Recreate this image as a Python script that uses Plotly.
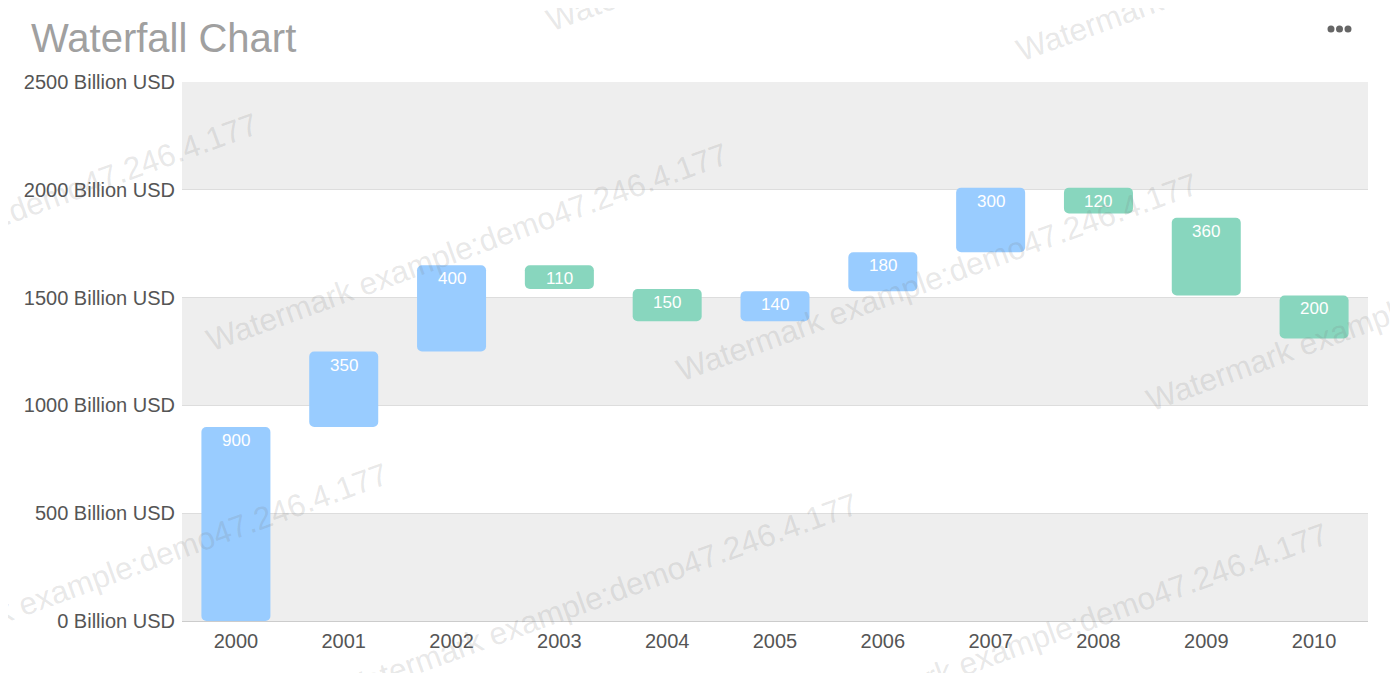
import numpy as np
import plotly.graph_objects as go

# ---- data (floating waterfall bars) ----
years = ["2000", "2001", "2002", "2003", "2004", "2005", "2006", "2007", "2008", "2009", "2010"]
bar_start = [0, 900, 1250, 1650, 1540, 1390, 1530, 1710, 2010, 1870, 1510]
bar_end = [900, 1250, 1650, 1540, 1390, 1530, 1710, 2010, 1890, 1510, 1310]
tick_vals = [0, 500, 1000, 1500, 2000, 2500]
tick_text = [f"{t} Billion USD" for t in tick_vals]
title_text = "Waterfall Chart"
watermark_text = "Watermark example:demo47.246.4.177"

BLUE = "#99ccff"
GREEN = "#88d6be"

s = np.array(bar_start, dtype=float)
e = np.array(bar_end, dtype=float)
changes = e - s
low = np.minimum(s, e)
high = np.maximum(s, e)
height = high - low
colors = [BLUE if v >= 0 else GREEN for v in changes]
idx = list(range(len(years)))

OFF = 8  # page body margin
W, H = 1398 - OFF, 673 - OFF
L, R, T, B = 182 - OFF, 30, 82 - OFF, 52
PW, PH = W - L - R, H - T - B


def px_x(px):
    return (px - OFF - L) / PW


def px_y(py):
    return (H - B - (py - OFF)) / PH


fig = go.Figure()
fig.add_trace(go.Bar(x=idx, y=height, base=low, marker=dict(color=colors, cornerradius=5, line=dict(width=0)),
                     hoverinfo="skip", showlegend=False))

annotations = []
for i, top, v in zip(idx, high, changes):
    annotations.append(dict(x=i, y=top, xref="x", yref="y", text=str(int(abs(v))), showarrow=False,
                            yanchor="top", yshift=-2,
                            font=dict(family="Liberation Sans, Arial", size=17, color="white")))

# watermark tiles
A = np.array([467.0, 247.0])
u = np.array([470.0, 30.0])
v = np.array([-340.0, 320.0])
for i in range(-2, 3):
    for j in range(-2, 3):
        c = A + i * u + j * v
        if -350 < c[0] < 1398 + 350 and -150 < c[1] < 673 + 150:
            annotations.append(dict(x=px_x(c[0]), y=px_y(c[1]), xref="paper", yref="paper",
                                    text=watermark_text, showarrow=False, textangle=-20,
                                    xanchor="center", yanchor="middle",
                                    font=dict(family="Liberation Sans, Arial", size=31.5,
                                              color="rgba(120,120,120,0.18)")))

# title
annotations.append(dict(x=px_x(29), y=px_y(38), xref="paper", yref="paper", text=title_text,
                        showarrow=False, xanchor="left", yanchor="middle",
                        font=dict(family="Liberation Sans, Arial", size=40, color="#a0a0a0")))

shapes = []
for k in range(0, len(tick_vals) - 1, 2):
    shapes.append(dict(type="rect", xref="paper", yref="y", x0=0, x1=1,
                       y0=tick_vals[k], y1=tick_vals[k + 1], fillcolor="#eeeeee",
                       line=dict(width=0), layer="below"))
# menu dots
for cx in (1331, 1339.5, 1348):
    shapes.append(dict(type="circle", xref="paper", yref="paper",
                       x0=px_x(cx - 3.5), x1=px_x(cx + 3.5), y0=px_y(29 + 3.5), y1=px_y(29 - 3.5),
                       fillcolor="#666666", line=dict(width=0)))

fig.update_layout(
    width=W, height=H,
    margin=dict(l=L, r=R, t=T, b=B),
    paper_bgcolor="white", plot_bgcolor="white",
    barmode="overlay", bargap=0.36,
    showlegend=False,
    annotations=annotations,
    shapes=shapes,
    font=dict(family="Liberation Sans, Arial", color="#555555"),
)
fig.update_xaxes(tickvals=idx, ticktext=years, range=[-0.5, len(years) - 0.5], showgrid=False,
                 showline=True, linecolor="#cccccc", linewidth=1,
                 tickfont=dict(size=20, color="#555555"), ticks="outside", ticklen=2, tickcolor="white",
                 fixedrange=True)
fig.update_yaxes(range=[0, 2500], tickvals=tick_vals, ticktext=tick_text, showgrid=True,
                 gridcolor="#dddddd", gridwidth=1, zeroline=False, showline=False,
                 tickfont=dict(size=20, color="#555555"), ticklabelstandoff=6, fixedrange=True)

fig.write_html("out.html", config={"displayModeBar": False})
